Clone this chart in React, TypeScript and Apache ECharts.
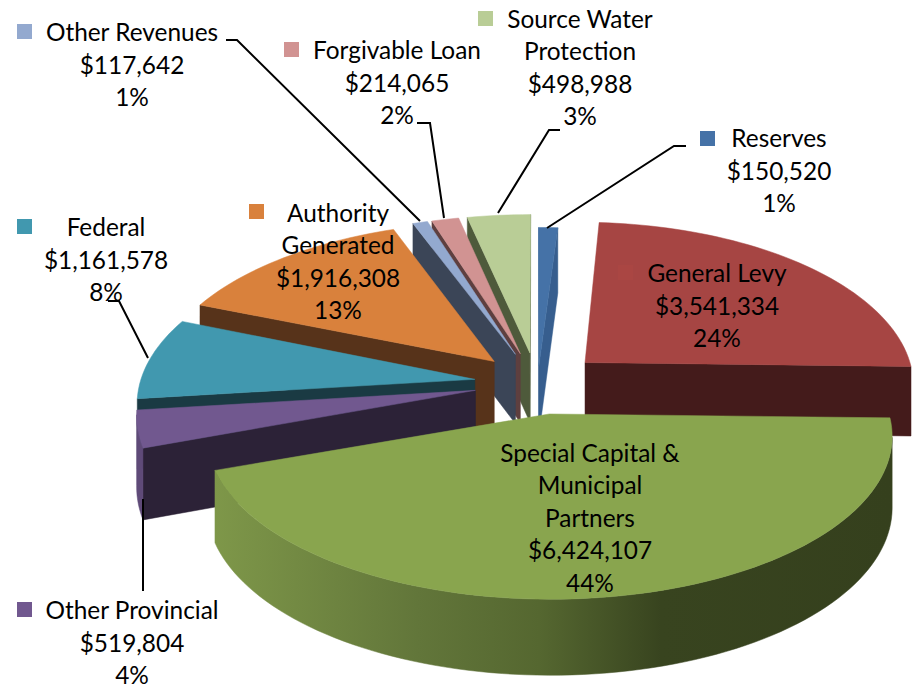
import React, { useEffect, useRef } from "react";
import * as echarts from "echarts";

// Data, in pie order (clockwise from 12 o'clock)
const categories = ["Reserves", "General Levy", "Special Capital & Municipal Partners", "Other Provincial", "Federal", "Authority Generated", "Other Revenues", "Forgivable Loan", "Source Water Protection"];
const values = [150520, 3541334, 6424107, 519804, 1161578, 1916308, 117642, 214065, 498988];
const percents = [1, 24, 44, 4, 8, 13, 1, 2, 3];
const nameLines = [["Reserves"], ["General Levy"], ["Special Capital &", "Municipal", "Partners"], ["Other Provincial"], ["Federal"], ["Authority", "Generated"], ["Other Revenues"], ["Forgivable Loan"], ["Source Water", "Protection"]];

// Styles
const topColors = ["#4572A7", "#A64543", "#89A54E", "#71588F", "#4198AF", "#D9813C", "#93A9CF", "#D19392", "#B9CD96"];
const cutColors = ["#375E8E", "#441B1B", "#35401D", "#2C2237", "#1A3A43", "#57331A", "#3B4557", "#5E3F3F", "#4E5A3B"];
const outerColors = ["#375E8E", "#441B1B", "#35401D", "#5F4A78", "#1A3A43", "#57331A", "#3B4557", "#5E3F3F", "#4E5A3B"];
const drawOrder = [0, 8, 7, 6, 1, 5, 4, 3, 2];
const labelCenters = [[779, 170], [717, 305], [590, 517], [132, 642], [106, 259], [338, 261], [132, 64], [397, 82], [580, 67]];
const keyBoxes = [[700, 131], [618, 265], [474, 445], [17, 602], [17, 219], [249, 204], [17, 24], [284, 42], [478, 11]];
const leaders = [
  [[547, 228], [674, 146], [686, 146]],
  [[108, 301], [119, 301], [148, 358]],
  [[143, 499], [143, 591]],
  [[226, 40], [237, 40], [420, 221]],
  [[417, 123], [430, 123], [444, 218]],
  [[498, 213], [549, 130], [560, 130]],
];
// per-slice screen correction: [dx, dy, scaleX, scaleY]
const nudges = [
  [5, 12, 1, 1], [11, 0, 0.97, 1], [8, 5, 0.977, 0.943], [0, 3, 0.98, 1], [0, 2, 0.985, 1],
  [2, 0, 1, 1], [2, -1, 1, 1], [3, -1, 1, 1], [4, -1, 1, 1],
];

// Projection of the exploded pie
const CX = 532, CY = 381, A = 340, B = 163, H = 70, P = 0.13, EXPLODE = 0.17;
const project = (x: number, y: number, drop: number) => {
  const s = 1 / (1 - P * y);
  return [CX + A * x * s, CY + B * y * s + H * drop * Math.sqrt(s)];
};
const total = values.reduce((a, b) => a + b, 0);
const startAngles: number[] = [];
values.reduce((acc, v, i) => { startAngles[i] = acc; return acc + (v / total) * Math.PI * 2; }, 0);

const greenWall = () => new echarts.graphic.LinearGradient(215, 0, 891, 0, [
  { offset: 0, color: "#7E9749" }, { offset: 0.3, color: "#62763A" }, { offset: 0.48, color: "#556730" },
  { offset: 0.66, color: "#38441F" }, { offset: 1, color: "#35401D" },
], true);

const renderItem = (params: any) => {
  const i = drawOrder[params.dataIndex];
  const a0 = startAngles[i];
  const a1 = a0 + (values[i] / total) * Math.PI * 2;
  const mid = (a0 + a1) / 2;
  const ox = EXPLODE * Math.sin(mid), oy = -EXPLODE * Math.cos(mid);
  const n = Math.max(2, Math.ceil((a1 - a0) / 0.03));
  const [dx, dy, sx, sy] = nudges[i];
  const apexScreen = project(ox, oy, 0);
  const proj = (p: number[], drop: number) => {
    const q = project(p[0], p[1], 0);
    const d = project(p[0], p[1], drop);
    return [
      apexScreen[0] + (q[0] - apexScreen[0]) * sx + dx,
      apexScreen[1] + (q[1] - apexScreen[1]) * sy + dy + (d[1] - q[1]),
    ];
  };
  const arc: number[][] = [];
  for (let k = 0; k <= n; k++) {
    const a = a0 + ((a1 - a0) * k) / n;
    arc.push([ox + Math.sin(a), oy - Math.cos(a)]);
  }
  const apex = [ox, oy];
  const poly = (pts: number[][], fill: any) => ({
    type: "polygon", shape: { points: pts }, style: { fill, stroke: fill, lineWidth: 0.5 }, silent: true,
  });
  const children: any[] = [];
  const wall = (p: number[], q: number[], fill: any) => {
    const t0 = proj(p, 0), t1 = proj(q, 0);
    if (t1[0] - t0[0] < 0) children.push(poly([t0, t1, proj(q, 1), proj(p, 1)], fill));
  };
  wall(apex, arc[0], cutColors[i]);
  wall(arc[n], apex, cutColors[i]);
  // outer wall, in runs of arc that face the viewer
  const outerFill = i === 2 ? greenWall() : outerColors[i];
  let run: number[][] = [];
  const flush = () => {
    if (run.length > 1) {
      const top = run.map((p) => proj(p, 0));
      const bottom = run.map((p) => proj(p, 1)).reverse();
      children.push(poly([...top, ...bottom], outerFill));
    }
    run = [];
  };
  for (let k = 0; k < n; k++) {
    const t0 = proj(arc[k], 0), t1 = proj(arc[k + 1], 0);
    if (t1[0] - t0[0] < 0) {
      if (!run.length) run.push(arc[k]);
      run.push(arc[k + 1]);
    } else flush();
  }
  flush();
  const top = [apex, ...arc].map((p) => proj(p, 0));
  children.push(poly(top, topColors[i]));
  return { type: "group", children };
};

export default function App() {
  const ref = useRef<HTMLDivElement>(null);
  useEffect(() => {
    const chart = echarts.init(ref.current!, null, { renderer: "svg" });
    const texts = categories.map((_, i) => ({
      type: "text", z: 10, x: labelCenters[i][0], y: labelCenters[i][1], silent: true,
      style: {
        text: [...nameLines[i], "$" + values[i].toLocaleString("en-US"), percents[i] + "%"].join("\n"),
        fontFamily: "Lato", fontSize: 24.4, lineHeight: 32.5, fill: "#000",
        textAlign: "center", textVerticalAlign: "middle",
      },
    }));
    const keys = categories.map((_, i) => ({
      type: "rect", z: 9, silent: true,
      shape: { x: keyBoxes[i][0], y: keyBoxes[i][1], width: 15, height: 15 },
      style: { fill: i === 1 ? "#AA4643" : topColors[i] },
    }));
    const lines = leaders.map((pts) => ({
      type: "polyline", z: 9, silent: true, shape: { points: pts },
      style: { stroke: "#000", lineWidth: 2, fill: "none" },
    }));
    chart.setOption({
      animation: false,
      backgroundColor: "#fff",
      graphic: { elements: [...lines, ...keys, ...texts] },
      series: [{
        type: "custom", coordinateSystem: "none", silent: true,
        data: drawOrder.map((i) => ({ name: categories[i], value: values[i] })),
        renderItem,
      }],
    });
    return () => chart.dispose();
  }, []);
  return <div ref={ref} style={{ position: "absolute", left: 0, top: 0, width: 912, height: 684 }} />;
}
